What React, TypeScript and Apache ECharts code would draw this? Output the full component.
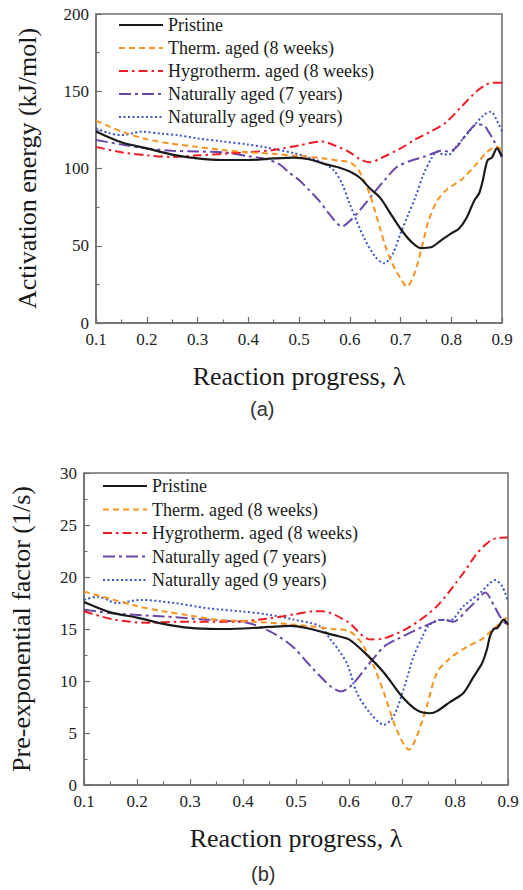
import React, { useEffect, useRef } from "react";
import * as echarts from "echarts";

type Pt = [number, number];

const seriesNames = [
  "Pristine",
  "Therm. aged (8 weeks)",
  "Hygrotherm. aged (8 weeks)",
  "Naturally aged (7 years)",
  "Naturally aged (9 years)",
];

// Activation energy (kJ/mol) vs reaction progress
const pristineE: Pt[] = [[0.10,124],[0.15,117],[0.20,113],[0.25,109],[0.30,106.5],[0.35,105.5],[0.40,105.5],[0.45,106.5],[0.49,107],[0.52,106],[0.55,103],[0.58,100.5],[0.60,98],[0.62,94],[0.64,87],[0.66,81],[0.68,71],[0.70,61],[0.72,53],[0.74,48.5],[0.76,49],[0.78,53.5],[0.80,58],[0.815,61],[0.83,68],[0.845,79],[0.855,84],[0.862,92],[0.867,100],[0.872,105.5],[0.88,107],[0.89,113],[0.90,108]];
const thermE: Pt[] = [[0.10,131],[0.15,124],[0.20,119],[0.25,116],[0.30,114],[0.35,112],[0.40,110.5],[0.45,109.5],[0.50,108],[0.55,106.5],[0.58,105],[0.60,104],[0.615,100],[0.627,93],[0.64,83],[0.65,72],[0.66,61],[0.67,50],[0.683,39],[0.70,29],[0.713,23.5],[0.725,30],[0.735,40],[0.745,53],[0.755,66],[0.772,79],[0.79,86],[0.805,89.5],[0.821,93],[0.85,103],[0.87,110.5],[0.89,114],[0.90,112]];
const hygroE: Pt[] = [[0.10,114],[0.15,110.5],[0.20,108.5],[0.25,107.5],[0.30,108.5],[0.35,109.5],[0.40,110.5],[0.45,112],[0.50,115],[0.545,117.5],[0.57,115],[0.60,110.5],[0.62,106],[0.64,104],[0.66,106.5],[0.70,113],[0.73,119],[0.76,124],[0.79,130],[0.82,140],[0.85,150],[0.87,154.5],[0.88,155.5],[0.90,155.5]];
const nat7E: Pt[] = [[0.10,118.5],[0.15,115.5],[0.20,113],[0.25,111.5],[0.30,111],[0.35,110.5],[0.40,108],[0.43,106.5],[0.46,103],[0.48,97.5],[0.50,92.5],[0.52,86],[0.54,79],[0.56,70.5],[0.585,62.5],[0.60,66],[0.62,73],[0.647,84],[0.67,93],[0.693,101],[0.72,105],[0.746,107.6],[0.77,110.5],[0.78,111.5],[0.795,111],[0.811,114],[0.831,122.7],[0.851,128.5],[0.864,128],[0.875,123],[0.884,118],[0.90,107]];
const nat9E: Pt[] = [[0.10,126],[0.125,123],[0.15,121.6],[0.19,123.8],[0.23,122.5],[0.26,121.6],[0.30,119.5],[0.35,117.5],[0.40,115.5],[0.43,114],[0.46,112],[0.49,110],[0.52,107],[0.545,104],[0.568,99],[0.585,90],[0.60,77],[0.627,56],[0.65,43],[0.668,38.6],[0.685,45],[0.70,58],[0.715,70],[0.73,82],[0.745,96],[0.76,106],[0.772,111],[0.785,109],[0.795,109],[0.812,115],[0.838,125],[0.864,134.6],[0.878,136.7],[0.893,129],[0.90,124]];

// Pre-exponential factor (1/s) vs reaction progress
const pristineA: Pt[] = [[0.10,17.6],[0.15,16.6],[0.20,16.1],[0.25,15.5],[0.30,15.1],[0.35,15.0],[0.40,15.05],[0.45,15.2],[0.49,15.3],[0.52,15.1],[0.55,14.7],[0.58,14.3],[0.60,14.0],[0.63,12.7],[0.666,10.8],[0.70,8.5],[0.728,7.2],[0.753,6.9],[0.766,7.1],[0.791,8.0],[0.816,8.85],[0.835,10.4],[0.851,11.7],[0.86,13.0],[0.866,14.3],[0.873,15.0],[0.88,15.1],[0.892,15.9],[0.90,15.4]];
const thermA: Pt[] = [[0.10,18.6],[0.15,17.9],[0.20,17.2],[0.25,16.7],[0.30,16.3],[0.35,15.9],[0.42,15.7],[0.50,15.4],[0.57,15.0],[0.60,14.8],[0.615,14.2],[0.628,13.3],[0.647,11.4],[0.666,8.85],[0.69,5.3],[0.713,3.4],[0.728,4.7],[0.747,7.6],[0.766,10.8],[0.791,12.2],[0.823,13.3],[0.85,14.0],[0.868,14.8],[0.882,15.4],[0.90,16.2]];
const hygroA: Pt[] = [[0.10,16.7],[0.157,15.9],[0.22,15.6],[0.28,15.7],[0.376,15.7],[0.446,16.0],[0.496,16.4],[0.534,16.7],[0.55,16.7],[0.597,15.7],[0.64,14.0],[0.666,14.1],[0.716,15.25],[0.766,17.2],[0.816,20.4],[0.842,22.3],[0.867,23.5],[0.88,23.75],[0.90,23.8]];
const nat7A: Pt[] = [[0.10,16.85],[0.157,16.5],[0.25,16.2],[0.333,15.9],[0.408,15.6],[0.446,14.9],[0.47,14.2],[0.496,13.2],[0.528,11.4],[0.565,9.5],[0.584,9.0],[0.603,9.5],[0.634,11.4],[0.666,13.3],[0.69,14.0],[0.741,15.25],[0.779,15.9],[0.797,15.7],[0.823,16.85],[0.842,17.8],[0.857,18.5],[0.873,17.3],[0.885,16.2],[0.90,15.25]];
const nat9A: Pt[] = [[0.10,17.8],[0.125,18.1],[0.163,17.5],[0.207,17.8],[0.27,17.5],[0.333,17.0],[0.395,16.7],[0.446,16.4],[0.496,15.9],[0.546,15.25],[0.565,14.0],[0.58,13.0],[0.597,11.6],[0.615,8.85],[0.64,6.9],[0.666,5.8],[0.684,6.6],[0.703,9.2],[0.722,12.4],[0.738,14.2],[0.75,15.3],[0.773,15.9],[0.79,15.8],[0.816,17.2],[0.848,18.5],[0.876,19.7],[0.889,19.1],[0.90,17.65]];

const energyData = [pristineE, thermE, hygroE, nat7E, nat9E];
const factorData = [pristineA, thermA, hygroA, nat7A, nat9A];

const xTitle = "Reaction progress, λ";
const yTitleTop = "Activation energy (kJ/mol)";
const yTitleBottom = "Pre-exponential factor (1/s)";
const panelLabels = ["(a)", "(b)"];

const colors = ["#1a1a1a", "#f7931e", "#ed1c24", "#6a46a8", "#3a55c6"];
const dashes: any[] = ["solid", [6, 4], [9, 4, 2.5, 4], [12, 4, 3, 4], [2, 2.5]];
const widths = [2.2, 2, 2, 2, 2];

const SERIF = "Liberation Serif";

export default function App() {
  const ref = useRef<HTMLDivElement>(null);
  useEffect(() => {
    if (!ref.current) return;
    const chart = echarts.init(ref.current, undefined, { renderer: "svg" });

    const frame = "#6e6e6e";
    const makeX = (gridIndex: number, gap: number) => ({
      type: "value",
      gridIndex,
      min: 0.1,
      max: 0.9,
      interval: 0.1,
      name: xTitle,
      nameLocation: "middle",
      nameGap: gap,
      nameTextStyle: { fontFamily: SERIF, fontSize: 26, color: "#1a1a1a" },
      axisLine: { show: true, onZero: false, lineStyle: { color: frame, width: 1.5 } },
      axisTick: { show: true, inside: true, length: 6, lineStyle: { color: frame, width: 1.2 } },
      minorTick: { show: true, splitNumber: 2, length: 3.5, lineStyle: { color: frame, width: 1.2 } },
      splitLine: { show: false },
      axisLabel: {
        margin: 8,
        fontFamily: SERIF,
        fontSize: 17,
        color: "#222",
        formatter: (v: number) => v.toFixed(1),
      },
    });
    const makeY = (gridIndex: number, max: number, interval: number, name: string, gap: number) => ({
      type: "value",
      gridIndex,
      min: 0,
      max,
      interval,
      name,
      nameLocation: "middle",
      nameGap: gap,
      nameTextStyle: { fontFamily: SERIF, fontSize: 26, color: "#1a1a1a" },
      axisLine: { show: true, lineStyle: { color: frame, width: 1.5 } },
      axisTick: { show: true, inside: true, length: 6, lineStyle: { color: frame, width: 1.2 } },
      minorTick: { show: true, splitNumber: 2, length: 3.5, lineStyle: { color: frame, width: 1.2 } },
      splitLine: { show: false },
      axisLabel: { margin: 7, fontFamily: SERIF, fontSize: 17, color: "#222" },
    });

    const series: any[] = [];
    [energyData, factorData].forEach((group, gi) => {
      group.forEach((data, i) => {
        series.push({
          type: "line",
          name: seriesNames[i],
          xAxisIndex: gi,
          yAxisIndex: gi,
          data,
          smooth: 0.3,
          symbol: "none",
          showSymbol: false,
          color: colors[i],
          lineStyle: { color: colors[i], width: widths[i], type: dashes[i], cap: "butt" },
          z: 10 - i,
        });
      });
    });

    const legendBase = {
      orient: "vertical",
      align: "left",
      itemWidth: 44,
      itemHeight: 18,
      data: seriesNames,
      selectedMode: false,
      itemStyle: { opacity: 0, borderWidth: 0 },
      textStyle: { fontFamily: SERIF, fontSize: 18, color: "#1a1a1a", lineHeight: 18 },
      padding: 0,
    };

    chart.setOption({
      animation: false,
      backgroundColor: "#ffffff",
      grid: [
        { left: 96, top: 14, width: 406, height: 309, show: true, borderColor: frame, borderWidth: 1.5, backgroundColor: "transparent" },
        { left: 83, top: 473, width: 425, height: 312, show: true, borderColor: frame, borderWidth: 1.5, backgroundColor: "transparent" },
      ],
      xAxis: [makeX(0, 40), makeX(1, 40)],
      yAxis: [makeY(0, 200, 50, yTitleTop, 56), makeY(1, 30, 5, yTitleBottom, 50)],
      legend: [
        { ...legendBase, left: 118, top: 16, itemGap: 5 },
        { ...legendBase, left: 102, top: 477, itemGap: 5.5 },
      ],
      graphic: [
        {
          type: "text",
          left: 250,
          top: 399,
          style: { text: panelLabels[0], font: "20px 'Liberation Sans', sans-serif", fill: "#333" },
        },
        {
          type: "text",
          left: 251,
          top: 864,
          style: { text: panelLabels[1], font: "20px 'Liberation Sans', sans-serif", fill: "#333" },
        },
      ],
      series,
    });
    return () => chart.dispose();
  }, []);
  return (
    <div
      ref={ref}
      style={{ position: "absolute", left: 0, top: 0, width: 523, height: 890, background: "#fff" }}
    />
  );
}
